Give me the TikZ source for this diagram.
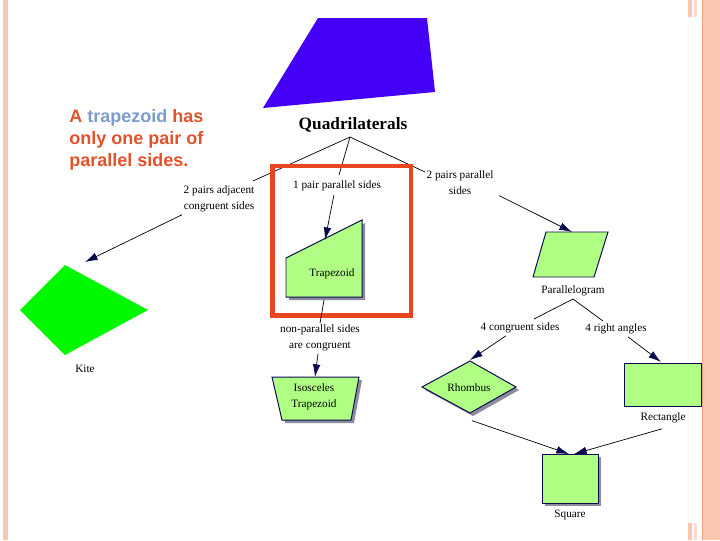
\documentclass[tikz,border=0pt]{standalone}
\usepackage{fontspec}
\setmainfont{Liberation Serif}
\newfontfamily\slidesans{Liberation Sans}
\usetikzlibrary{arrows.meta}

\definecolor{peach}{HTML}{F9C6B0}
\definecolor{peachline}{HTML}{F2A27E}
\definecolor{topblue}{HTML}{4400F6}
\definecolor{txtorange}{HTML}{E2532B}
\definecolor{txtblue}{HTML}{7C9CCB}
\definecolor{redbox}{HTML}{E8461E}
\definecolor{figgreen}{HTML}{B0FF84}
\definecolor{kitegreen}{HTML}{00F800}
\definecolor{navyline}{HTML}{0A0A50}
\definecolor{shadowgrey}{HTML}{8C8CA0}

\tikzset{
  figure/.style={fill=figgreen, draw=navyline, line width=0.7pt},
  figshadow/.style={fill=shadowgrey},
  lbl/.style={font=\fontsize{8}{11.3}\selectfont, align=center, inner sep=1pt},
  link/.style={draw=black, line width=0.5pt},
  arr/.style={link, -{Latex[length=9pt,width=5.5pt,color=navyline]}}
}

\begin{document}
\begin{tikzpicture}[x=0.025cm, y=-0.025cm]
    \useasboundingbox (0,0) rectangle (720,540);
    % Slide border
    \fill[peach] (3,0) rectangle (8,540);
    \fill[peach] (703,0) rectangle (720,540);
    \draw[peachline, line width=1pt] (702.5,0) -- (702.5,540);
    \fill[peach] (688,0) rectangle (692,17);
    \fill[peach!60] (694,0) rectangle (697,17);
    \fill[peach] (688,523) rectangle (692,540);
    \fill[peach!60] (694,523) rectangle (697,540);
    % Blue trapezoid
    \fill[topblue] (318,18) -- (427,18) -- (435,92) -- (263,108) -- cycle;
    % Claim text
    \node[anchor=north west, align=left, inner sep=0, text=txtorange,
          font=\slidesans\bfseries\fontsize{12.8}{15.6}\selectfont] (claim) at (69,109)
          {A \textcolor{txtblue}{trapezoid} has\\only one pair of\\parallel sides.};
    % Title
    \node[font=\bfseries\fontsize{12.3}{14}\selectfont] (quad) at (353,125) {Quadrilaterals};
    \coordinate (qhub) at (350,137);
    % Branch labels
    \node[lbl] (adj) at (219,199) {2 pairs adjacent\\congruent sides};
    \node[lbl] (onepair) at (337,186) {1 pair parallel sides};
    \node[lbl] (twopair) at (460,183) {2 pairs parallel\\sides};
    \coordinate (adjtop) at (253,181);
    \coordinate (onetop) at (339,175);
    \coordinate (twotop) at (425,172);
    \draw[link] (qhub) -- (adjtop);
    \draw[link] (qhub) -- (onetop);
    \draw[link] (qhub) -- (twotop);
    % Highlight box
    \draw[redbox, line width=3.2pt] (272.5,166) rectangle (411,315.5);
    % Trapezoid
    \fill[figshadow, shift={(3,3)}] (286,258) -- (362,220) -- (362,297) -- (286,297) -- cycle;
    \draw[figure] (286,258) -- (362,220) -- (362,297) -- (286,297) -- cycle;
    \node[lbl] (trap) at (332,274) {Trapezoid};
    \coordinate (trapin) at (325,240);
    \coordinate (trapout) at (324,300);
    % Kite
    \fill[kitegreen] (65,265) -- (148,310) -- (65,355) -- (20,310) -- cycle;
    \node[lbl] (kite) at (85,369) {Kite};
    \coordinate (kitein) at (85,262);
    % Isosceles trapezoid
    \fill[figshadow, shift={(3,3)}] (272,377) -- (359,377) -- (351,420) -- (282,420) -- cycle;
    \draw[figure] (272,377) -- (359,377) -- (351,420) -- (282,420) -- cycle;
    \node[lbl] (isos) at (314,397) {Isosceles\\Trapezoid};
    \node[lbl] (nonpar) at (320,338) {non-parallel sides\\are congruent};
    \coordinate (isosin) at (315,377);
    % Parallelogram
    \draw[figure] (546,232) -- (608,232) -- (594,277) -- (533,277) -- cycle;
    \node[lbl] (para) at (573,291) {Parallelogram};
    \coordinate (parain) at (572,232);
    \coordinate (parahub) at (573,299);
    \node[lbl] (congr) at (520,328) {4 congruent sides};
    \node[lbl] (right) at (616,329) {4 right angles};
    \coordinate (congrtop) at (534,319);
    \coordinate (righttop) at (603,321);
    % Rhombus
    \fill[figshadow, shift={(3,3)}] (470,361) -- (516,387) -- (470,413) -- (422,387) -- cycle;
    \draw[figure] (470,361) -- (516,387) -- (470,413) -- (422,387) -- cycle;
    \node[lbl] (rhomb) at (469,388) {Rhombus};
    \coordinate (rhombin) at (470,360);
    % Rectangle
    \draw[figure] (624,363) rectangle (701,406);
    \node[lbl] (rect) at (663,418) {Rectangle};
    \coordinate (rectin) at (661,362);
    % Square
    \fill[figshadow, shift={(3,3)}] (542,454) rectangle (598,503);
    \draw[figure] (542,454) rectangle (598,503);
    \node[lbl] (square) at (570,515) {Square};
    \coordinate (sqleft) at (569,454);
    \coordinate (sqright) at (574,454);
    % Arrows
    \draw[arr] (onepair.south) ++(-3,2) coordinate (onebot) (onebot) -- (trapin);
    \draw[arr] (adj.south west) ++(0,1) coordinate (adjbot) (adjbot) -- (kitein);
    \draw[arr] (twopair.south east) ++(4,-1) coordinate (twobot) (twobot) -- (parain);
    \draw[link] (trapout) -- (nonpar.north);
    \draw[arr] (nonpar.south) ++(-2,1) coordinate (nonbot) (nonbot) -- (isosin);
    \draw[link] (parahub) -- (congrtop);
    \draw[link] (parahub) -- (righttop);
    \draw[arr] (congr.south) ++(-14,1) coordinate (congrbot) (congrbot) -- (rhombin);
    \draw[arr] (right.south) ++(12,1) coordinate (rightbot) (rightbot) -- (rectin);
    \draw[arr] (rhomb.south) ++(3,27) coordinate (rhombbot) (rhombbot) -- (sqleft);
    \draw[arr] (rect.south) ++(-1,4) coordinate (rectbot) (rectbot) -- (sqright);
\end{tikzpicture}
\end{document}
